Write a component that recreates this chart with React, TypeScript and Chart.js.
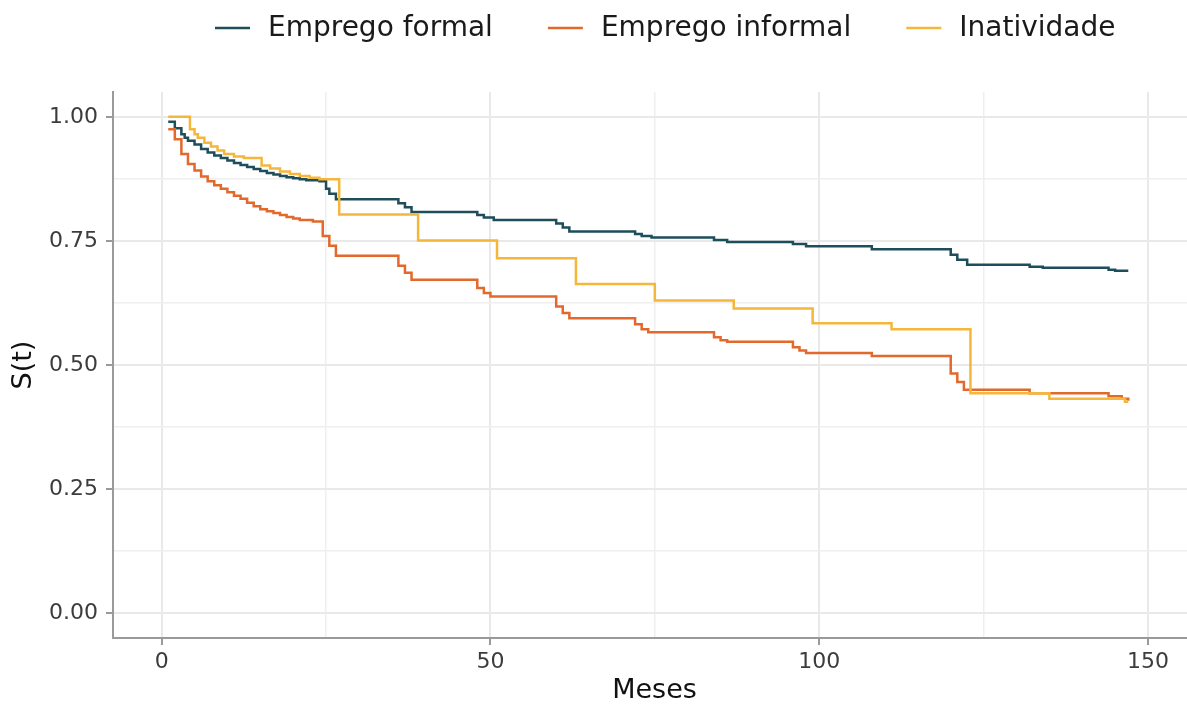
import React, { useEffect, useRef } from "react";
import { Chart, registerables } from "chart.js";

Chart.register(...registerables);

// ---- Data ----
const seriesLabels = ["Emprego formal", "Emprego informal", "Inatividade"];
const seriesColors = ["#1E4D5B", "#E2692B", "#F5B73B"];

const formalTimes = [1, 2, 3, 3.5, 4, 5, 6, 7, 8, 9, 10, 11, 12, 13, 14, 15, 16, 17, 18, 19, 20, 21, 22, 24, 25, 25.5, 26.5, 36, 37, 38, 48, 49, 50.5, 60, 61, 62, 72, 73, 74.5, 84, 86, 96, 98, 108, 120, 121, 122.5, 132, 134, 144, 145, 147];
const formalSurv = [0.99, 0.977, 0.965, 0.958, 0.952, 0.944, 0.935, 0.928, 0.922, 0.917, 0.912, 0.907, 0.903, 0.899, 0.895, 0.891, 0.887, 0.884, 0.881, 0.878, 0.876, 0.874, 0.872, 0.87, 0.855, 0.845, 0.834, 0.826, 0.818, 0.808, 0.802, 0.797, 0.792, 0.785, 0.777, 0.769, 0.764, 0.76, 0.757, 0.752, 0.748, 0.744, 0.739, 0.733, 0.722, 0.712, 0.702, 0.698, 0.696, 0.692, 0.69, 0.69];

const informalTimes = [1, 2, 3, 4, 5, 6, 7, 8, 9, 10, 11, 12, 13, 14, 15, 16, 17, 18, 19, 20, 21, 23, 24.5, 25.5, 26.5, 36, 37, 38, 48, 49, 50, 60, 61, 62, 72, 73, 74, 84, 85, 86, 96, 97, 98, 108, 120, 121, 122, 132, 144, 146, 147];
const informalSurv = [0.975, 0.955, 0.925, 0.905, 0.892, 0.88, 0.87, 0.862, 0.855, 0.848, 0.841, 0.835, 0.827, 0.82, 0.814, 0.81, 0.806, 0.802, 0.798, 0.795, 0.792, 0.789, 0.76, 0.74, 0.72, 0.7, 0.686, 0.672, 0.655, 0.645, 0.638, 0.618, 0.605, 0.594, 0.582, 0.572, 0.566, 0.556, 0.55, 0.547, 0.536, 0.529, 0.524, 0.518, 0.483, 0.466, 0.45, 0.443, 0.437, 0.432, 0.428];

const inativTimes = [1, 4.3, 5, 5.5, 6.5, 7.5, 8.5, 9.5, 11, 12.5, 15.2, 16.5, 18, 19.5, 21, 22.5, 24, 27, 39, 51, 63, 75, 87, 99, 111, 123, 135, 146.5, 147];
const inativSurv = [1.0, 0.975, 0.965, 0.958, 0.948, 0.94, 0.932, 0.925, 0.92, 0.917, 0.902, 0.896, 0.89, 0.885, 0.881, 0.877, 0.874, 0.803, 0.751, 0.715, 0.663, 0.63, 0.614, 0.584, 0.572, 0.443, 0.432, 0.426, 0.426];

const xGridTicks = [0, 25, 50, 75, 100, 125, 150];
const xMajorTicks = [0, 50, 100, 150];
const xTickLabels = ["0", "50", "100", "150"];
const yGridTicks = [0, 0.125, 0.25, 0.375, 0.5, 0.625, 0.75, 0.875, 1];
const yMajorTicks = [0, 0.25, 0.5, 0.75, 1];
const yTickLabels = ["0.00", "0.25", "0.50", "0.75", "1.00"];

const xTitle = "Meses";
const yTitle = "S(t)";

const toPoints = (t: number[], s: number[]) => t.map((x, i) => ({ x, y: s[i] }));

const isMajor = (list: number[], v: number) => list.some((m) => Math.abs(m - v) < 1e-9);

const FONT = "'DejaVu Sans', 'Noto Sans', sans-serif";

const legendPlugin = {
  id: "customLegend",
  afterDraw(chart: any) {
    const ctx = chart.ctx;
    ctx.save();
    ctx.font = `28px ${FONT}`;
    ctx.textBaseline = "middle";
    ctx.textAlign = "left";
    let x = 215;
    const y = 28;
    seriesLabels.forEach((label, i) => {
      ctx.strokeStyle = seriesColors[i];
      ctx.lineWidth = 2.5;
      ctx.beginPath();
      ctx.moveTo(x, y);
      ctx.lineTo(x + 35, y);
      ctx.stroke();
      ctx.fillStyle = "#1A1A1A";
      ctx.fillText(label, x + 53, y + 1);
      const w = ctx.measureText(label).width;
      x = x + 53 + w + 55;
    });
    ctx.restore();
  },
};

export default function App() {
  const canvasRef = useRef<HTMLCanvasElement | null>(null);

  useEffect(() => {
    const canvas = canvasRef.current;
    if (!canvas) return;
    const datasetsRaw = [
      { t: formalTimes, s: formalSurv, order: 2 },
      { t: informalTimes, s: informalSurv, order: 1 },
      { t: inativTimes, s: inativSurv, order: 0 },
    ];
    const gridColor = (list: number[]) => (c: any) => (isMajor(list, c.tick?.value) ? "#E9E9E9" : "#EFEFEF");
    const gridWidth = (list: number[]) => (c: any) => (isMajor(list, c.tick?.value) ? 2 : 1.5);
    const tickCol = (list: number[]) => (c: any) => (isMajor(list, c.tick?.value) ? "#9A9A9A" : "rgba(0,0,0,0)");
    const chart = new Chart(canvas, {
      type: "line",
      data: {
        datasets: datasetsRaw.map((d, i) => ({
          label: seriesLabels[i],
          data: toPoints(d.t, d.s),
          borderColor: seriesColors[i],
          backgroundColor: seriesColors[i],
          borderWidth: 2.5,
          pointRadius: 0,
          stepped: "before" as const,
          fill: false,
          order: d.order,
        })),
      },
      options: {
        animation: false,
        responsive: false,
        maintainAspectRatio: false,
        events: [],
        layout: { padding: { top: 92, left: 0, right: 0, bottom: 0 } },
        plugins: {
          legend: { display: false },
          tooltip: { enabled: false },
        },
        scales: {
          x: {
            type: "linear",
            position: "bottom",
            min: -7.4,
            max: 157.3,
            afterBuildTicks: (scale: any) => {
              scale.ticks = xGridTicks.map((v) => ({ value: v }));
            },
            afterFit: (scale: any) => {
              scale.height = 66;
            },
            ticks: {
              autoSkip: false,
              maxRotation: 0,
              padding: 6,
              color: "#3C3C3C",
              font: { family: FONT, size: 22, lineHeight: 1 },
              callback: (value: any) => {
                const idx = xMajorTicks.findIndex((m) => Math.abs(m - Number(value)) < 1e-9);
                return idx >= 0 ? xTickLabels[idx] : "";
              },
            },
            grid: {
              color: gridColor(xMajorTicks),
              lineWidth: gridWidth(xMajorTicks),
              tickColor: tickCol(xMajorTicks),
              tickLength: 7,
              tickWidth: 2,
              drawTicks: true,
            },
            border: { display: true, color: "#9A9A9A", width: 2 },
            title: {
              display: true,
              text: xTitle,
              color: "#111111",
              font: { family: FONT, size: 27, lineHeight: 1 },
              padding: { top: 0, bottom: 0 },
            },
          },
          y: {
            type: "linear",
            position: "left",
            min: -0.05,
            max: 1.05,
            afterBuildTicks: (scale: any) => {
              scale.ticks = yGridTicks.map((v) => ({ value: v }));
            },
            afterFit: (scale: any) => {
              scale.width = 113;
            },
            ticks: {
              autoSkip: false,
              padding: 8,
              color: "#3C3C3C",
              font: { family: FONT, size: 22, lineHeight: 1 },
              callback: (value: any) => {
                const idx = yMajorTicks.findIndex((m) => Math.abs(m - Number(value)) < 1e-9);
                return idx >= 0 ? yTickLabels[idx] : "";
              },
            },
            grid: {
              color: gridColor(yMajorTicks),
              lineWidth: gridWidth(yMajorTicks),
              tickColor: tickCol(yMajorTicks),
              tickLength: 7,
              tickWidth: 2,
              drawTicks: true,
            },
            border: { display: true, color: "#9A9A9A", width: 2 },
            title: {
              display: true,
              text: yTitle,
              color: "#111111",
              font: { family: FONT, size: 27, lineHeight: 1 },
              padding: { top: 10, bottom: 0 },
            },
          },
        },
      },
      plugins: [legendPlugin],
    } as any);
    return () => chart.destroy();
  }, []);

  return (
    <div
      style={{
        position: "fixed",
        left: 0,
        top: 0,
        width: 1187,
        height: 704,
        overflow: "hidden",
        background: "#ffffff",
      }}
    >
      <canvas ref={canvasRef} width={1196} height={704} style={{ display: "block", width: 1196, height: 704 }} />
    </div>
  );
}
